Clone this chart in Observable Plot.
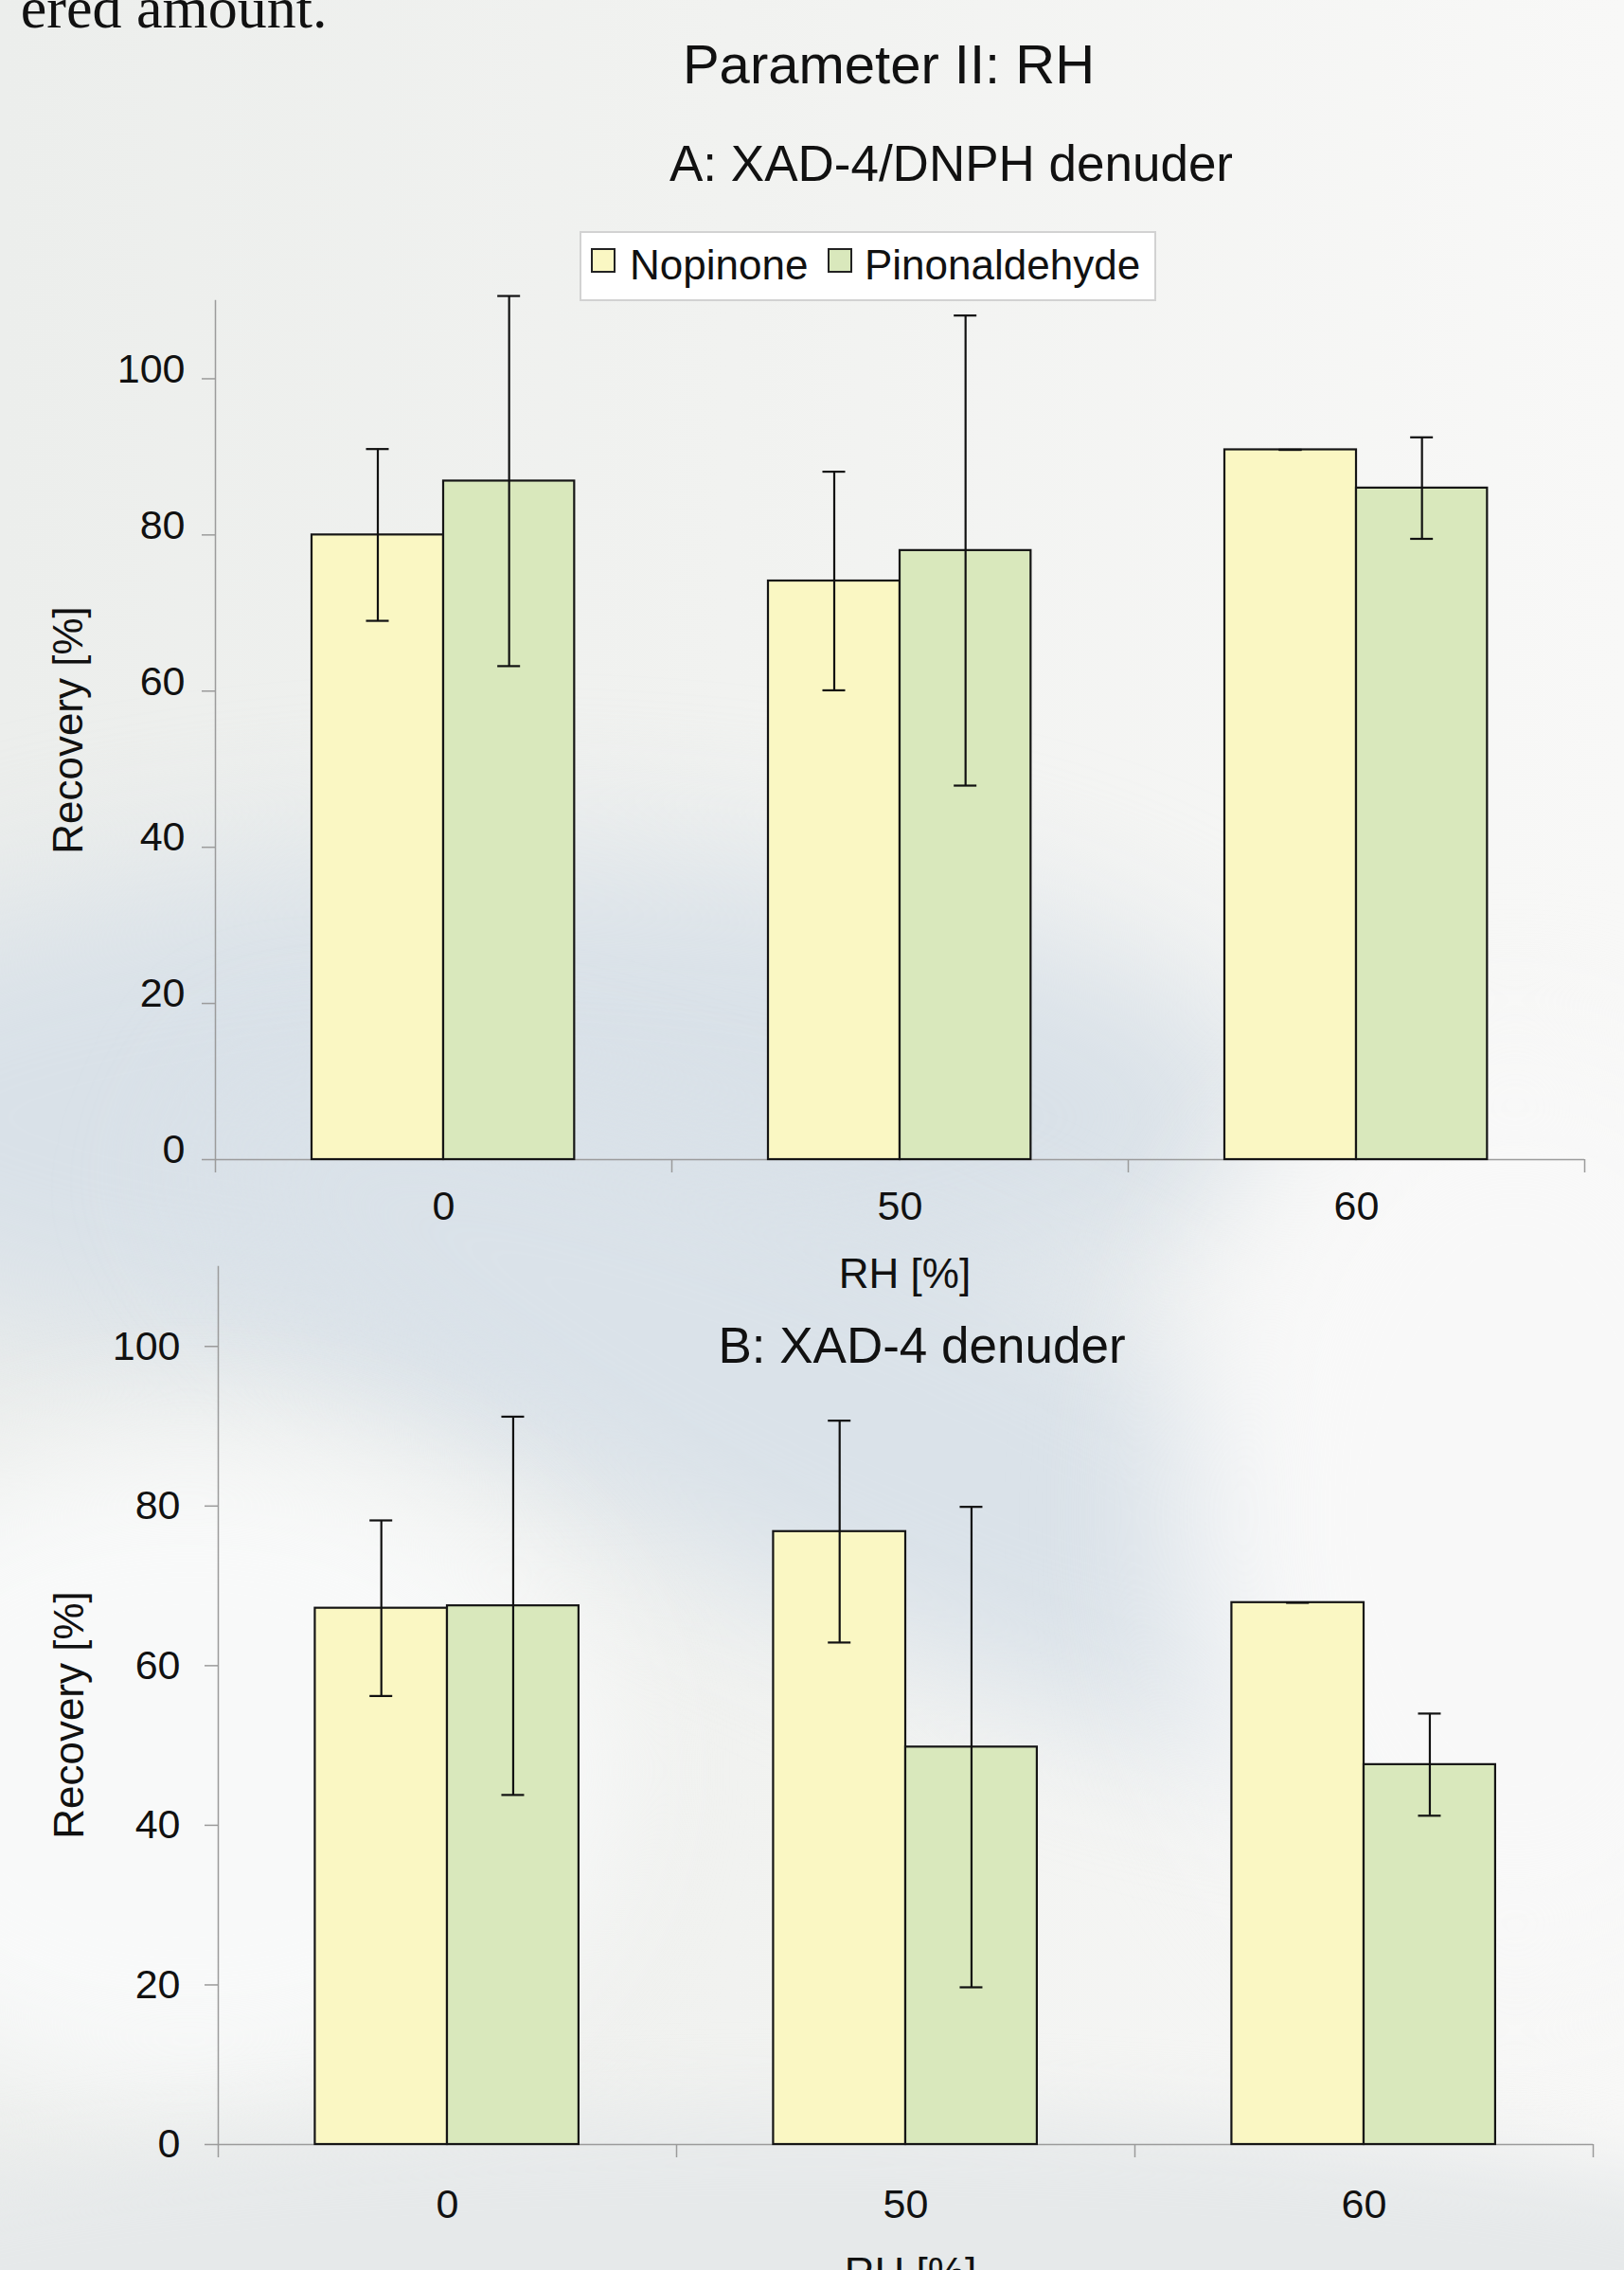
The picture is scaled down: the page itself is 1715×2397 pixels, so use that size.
<!DOCTYPE html>
<html><head><meta charset="utf-8">
<script src="https://cdn.jsdelivr.net/npm/d3@7"></script>
<script src="https://cdn.jsdelivr.net/npm/@observablehq/plot@0.6"></script>
<style>
html,body{margin:0;padding:0;}
body{width:1715px;height:2397px;overflow:hidden;}
#page{position:relative;width:1715px;height:2397px;overflow:hidden;
  background:linear-gradient(90deg,#eceeec 0%,#f1f2f0 45%,#f8f8f7 100%);
  font-family:"Liberation Sans",Arial,sans-serif;}
.blob{position:absolute;border-radius:50%;}
#page svg{position:absolute;left:0;}
</style></head>
<body><div id="page">
 <div class="blob" style="left:-300px;top:900px;width:1650px;height:560px;background:#d9e1e8;filter:blur(80px);"></div>
 <div class="blob" style="left:160px;top:1300px;width:1550px;height:420px;background:#dae2e9;filter:blur(70px);transform:rotate(24deg);"></div>
 <div class="blob" style="left:-250px;top:1520px;width:900px;height:700px;background:#f8f9f9;filter:blur(70px);"></div>
 <div class="blob" style="left:1250px;top:1100px;width:700px;height:1000px;background:#f8f8f8;filter:blur(80px);"></div>
 <div class="blob" style="left:-300px;top:2230px;width:2300px;height:400px;background:#e6e9ea;filter:blur(40px);"></div>
</div>
<script>
// ---- data ----
const rhLevels = ["0", "50", "60"];
const compounds = ["Nopinone", "Pinonaldehyde"];
const colors = ["#faf7c3", "#d9e8bc"];
const yTicks = [0, 20, 40, 60, 80, 100];

const nopinoneA = [80.0, 74.1, 90.9];
const nopinoneA_sd = [11.0, 14.0, 0];
const pinonaldehydeA = [86.9, 78.0, 86.0];
const pinonaldehydeA_sd = [23.7, 30.1, 6.5];

const nopinoneB = [67.2, 76.8, 67.9];
const nopinoneB_sd = [11.0, 13.9, 0];
const pinonaldehydeB = [67.5, 49.8, 47.6];
const pinonaldehydeB_sd = [23.7, 30.1, 6.4];

const pageTitle = "Parameter II: RH";
const titleA = "A: XAD-4/DNPH denuder";
const titleB = "B: XAD-4 denuder";
const yLabel = "Recovery [%]";
const xLabel = "RH [%]";
const topText = "ered amount.";

function rowsOf(nop, nopSd, pin, pinSd) {
  const rows = [];
  rhLevels.forEach((rh, i) => {
    rows.push({rh, compound: compounds[0], value: nop[i], sd: nopSd[i]});
    rows.push({rh, compound: compounds[1], value: pin[i], sd: pinSd[i]});
  });
  return rows;
}

const FONT = "'Liberation Sans', Arial, sans-serif";
const gray = "#9b9b9b";

function panel(cfg) {
  const width = 1715;
  const {rows, height, mL, mR, mT, mB} = cfg;
  const bw = (width - mL - mR) / rhLevels.length;
  const frameH = height - mT - mB;
  const seg = [[0.2116, 0.5], [0.5, 0.787]];
  const marks = [];
  marks.push(Plot.ruleY([0], {stroke: gray, strokeWidth: 1.5}));
  marks.push(Plot.frame({anchor: "left", stroke: gray, strokeWidth: 1.5}));
  marks.push(Plot.ruleX(rhLevels, {x: d => d, dx: -bw / 2, insetTop: frameH, insetBottom: -14, stroke: gray, strokeWidth: 1.5}));
  marks.push(Plot.ruleX(rhLevels.slice(-1), {x: d => d, dx: bw / 2, insetTop: frameH, insetBottom: -14, stroke: gray, strokeWidth: 1.5}));
  compounds.forEach((c, k) => {
    const d = rows.filter(r => r.compound === c);
    const [a, b] = seg[k];
    marks.push(Plot.barY(d, {x: "rh", y: "value", fill: colors[k], stroke: "#151515", strokeWidth: 2.2,
      insetLeft: a * bw, insetRight: (1 - b) * bw}));
  });
  compounds.forEach((c, k) => {
    const d = rows.filter(r => r.compound === c);
    const [a, b] = seg[k];
    const mid = (a + b) / 2;
    marks.push(Plot.ruleX(d, {x: "rh", y1: r => r.value - r.sd, y2: r => r.value + r.sd,
      dx: (mid - 0.5) * bw, stroke: "#111", strokeWidth: 2.2}));
    for (const sign of [1, -1]) {
      marks.push(Plot.tickY(d, {x: "rh", y: r => r.value + sign * r.sd,
        insetLeft: mid * bw - 12, insetRight: (1 - mid) * bw - 12, stroke: "#111", strokeWidth: 2.2}));
    }
  });
  marks.push(Plot.axisY({ticks: yTicks, tickSize: 14, stroke: gray, strokeWidth: 1.5, fill: "none", label: null}));
  marks.push(Plot.axisY({ticks: yTicks, tickSize: 0, tickPadding: cfg.yTextPad, dy: cfg.yTextDy,
    fontSize: 43, fill: "#111", label: null}));
  marks.push(Plot.axisX({tickSize: 0, tickPadding: cfg.xTextPad, fontSize: 43, fill: "#111", label: null}));
  marks.push(Plot.text([yLabel], {frameAnchor: "left", textAnchor: "middle", rotate: -90, dx: cfg.yLabelDx, dy: cfg.yLabelDy,
    fontSize: 44, fill: "#111"}));
  marks.push(Plot.text([xLabel], {frameAnchor: "bottom", lineAnchor: "bottom", dx: cfg.xLabelDx, dy: cfg.xLabelDy,
    fontSize: 44, fill: "#111"}));
  marks.push(...(cfg.extra || []));
  const svg = Plot.plot({
    width, height,
    marginLeft: mL, marginRight: mR, marginTop: mT, marginBottom: mB,
    style: {background: "transparent", fontFamily: FONT, fontSize: "43px", color: "#111", overflow: "visible"},
    x: {type: "band", domain: rhLevels, padding: 0},
    y: {domain: [0, 110]},
    marks
  });
  svg.style.position = "absolute";
  svg.style.left = "0px";
  svg.style.top = cfg.top + "px";
  return svg;
}

const page = document.getElementById("page");

const svgA = panel({
  rows: rowsOf(nopinoneA, nopinoneA_sd, pinonaldehydeA, pinonaldehydeA_sd),
  top: 0, height: 1380, mL: 227, mR: 42, mT: 317, mB: 156,
  yTextPad: 32, yTextDy: -10, xTextPad: 33,
  yLabelDx: -155, yLabelDy: 0, xLabelDx: 5, xLabelDy: 135,
  extra: [
    Plot.text([pageTitle], {frameAnchor: "top", lineAnchor: "bottom", dx: -12, dy: 87 - 317, fontSize: 58, fill: "#111"}),
    Plot.text([titleA], {frameAnchor: "top", lineAnchor: "bottom", dx: 54, dy: 190 - 317, fontSize: 53, fill: "#111"}),
    Plot.text([topText], {frameAnchor: "top-left", lineAnchor: "bottom", textAnchor: "end", dx: 345 - 227, dy: 28 - 317,
      fontSize: 62, fontFamily: "'Liberation Serif', 'Times New Roman', serif", fill: "#111"})
  ]
});
page.appendChild(svgA);

const svgB = panel({
  rows: rowsOf(nopinoneB, nopinoneB_sd, pinonaldehydeB, pinonaldehydeB_sd),
  top: 1300, height: 1097, mL: 230, mR: 33, mT: 37, mB: 133,
  yTextPad: 40, yTextDy: 0, xTextPad: 47,
  yLabelDx: -157, yLabelDy: 10, xLabelDx: 5, xLabelDy: 150,
  extra: [
    Plot.text([titleB], {frameAnchor: "top", lineAnchor: "bottom", dx: 17, dy: 101, fontSize: 53, fill: "#111"})
  ]
});
page.appendChild(svgB);

// ---- legend ----
const leg = d3.create("svg").attr("width", 1715).attr("height", 400)
  .style("position", "absolute").style("left", "0px").style("top", "0px")
  .style("font-family", FONT);
leg.append("rect").attr("x", 613).attr("y", 245).attr("width", 607).attr("height", 72)
  .attr("fill", "#ffffff").attr("stroke", "#d2d2d2").attr("stroke-width", 2);
const legX = [[625, 665], [875, 913]];
compounds.forEach((c, k) => {
  leg.append("rect").attr("x", legX[k][0]).attr("y", 263).attr("width", 24).attr("height", 24)
    .attr("fill", colors[k]).attr("stroke", "#222").attr("stroke-width", 2);
  leg.append("text").attr("x", legX[k][1]).attr("y", 295).attr("font-size", 44).attr("fill", "#111").text(c);
});
page.appendChild(leg.node());
</script>
</body></html>
